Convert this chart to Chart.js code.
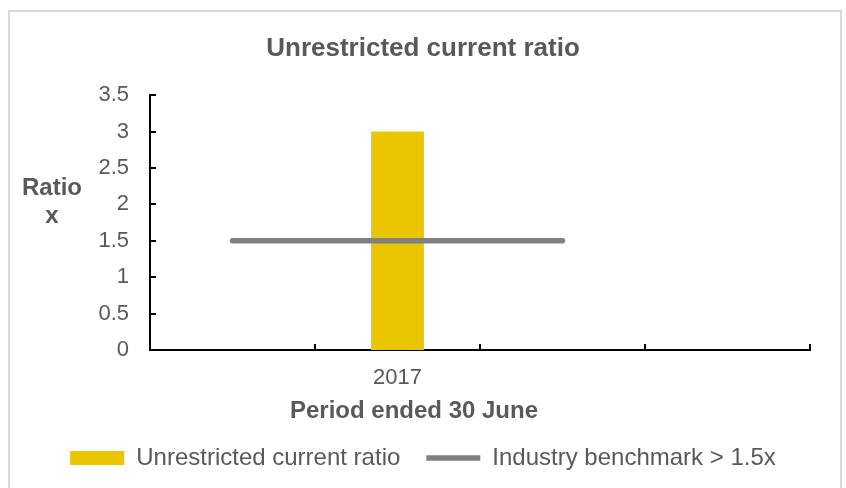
<!DOCTYPE html>
<html>
<head>
<meta charset="utf-8">
<script src="https://cdn.jsdelivr.net/npm/chart.js@4"></script>
<style>
  html, body { margin: 0; padding: 0; background: #fff; overflow: hidden; }
  #frame {
    position: absolute; left: 8px; top: 10px; width: 830px; height: 500px;
    border: 2px solid #d9d9d9; border-bottom: none;
  }
  #wrap { position: absolute; left: 0; top: 0; width: 846px; height: 488px; }
</style>
</head>
<body>
<div id="frame"></div>
<div id="wrap"><canvas id="chart"></canvas></div>
<script>
// Periods on the x axis (only 2017 has a result)
const periods = ['', '2017', '', ''];
const currentRatio = [null, 3.0, null, null];
const benchmark = [1.5, 1.5, 1.5, null];
const yMin = 0, yMax = 3.5, yStep = 0.5;

const textGrey = '#595959';
const gold = '#EBC500';
const lineGrey = '#808080';
const fontFamily = '"Liberation Sans", Arial, sans-serif';

// Draws inward tick marks on both axes plus the two axis titles
const axisExtras = {
    id: 'axisExtras',
    afterDraw(chart) {
        const { ctx, chartArea, scales } = chart;
        const y = scales.y;
        ctx.save();
        ctx.strokeStyle = '#000';
        ctx.lineWidth = 2;
        ctx.beginPath();
        y.ticks.forEach(t => {
            const py = Math.round(y.getPixelForValue(t.value));
            ctx.moveTo(chartArea.left, py);
            ctx.lineTo(chartArea.left + 6, py);
        });
        const n = periods.length;
        for (let i = 1; i <= n; i++) {
            const px = Math.round(chartArea.left + i * (chartArea.right - chartArea.left) / n);
            ctx.moveTo(px, chartArea.bottom);
            ctx.lineTo(px, chartArea.bottom - 6);
        }
        ctx.stroke();

        ctx.fillStyle = textGrey;
        ctx.font = 'bold 24px ' + fontFamily;
        ctx.textAlign = 'center';
        ctx.textBaseline = 'alphabetic';
        ctx.fillText('Ratio', 52, 195);
        ctx.fillText('x', 52, 223);
        ctx.textBaseline = 'middle';
        ctx.fillText('Period ended 30 June', 414, 411);
        ctx.restore();
    }
};

new Chart(document.getElementById('chart'), {
    data: {
        labels: periods,
        datasets: [
            {
                type: 'bar',
                label: 'Unrestricted current ratio',
                data: currentRatio,
                backgroundColor: gold,
                borderWidth: 0,
                barPercentage: 0.32,
                categoryPercentage: 1,
                pointStyle: 'rect',
                order: 2
            },
            {
                type: 'line',
                label: 'Industry benchmark > 1.5x',
                data: benchmark,
                borderColor: lineGrey,
                backgroundColor: lineGrey,
                borderWidth: 5.5,
                borderCapStyle: 'round',
                pointRadius: 0,
                pointStyle: 'line',
                order: 1
            }
        ]
    },
    options: {
        responsive: true,
        maintainAspectRatio: false,
        animation: false,
        layout: { padding: { left: 36, right: 36, top: 0, bottom: 8 } },
        plugins: {
            title: {
                display: true,
                text: 'Unrestricted current ratio',
                color: textGrey,
                font: { family: fontFamily, size: 26, weight: 'bold' },
                padding: { top: 33, bottom: 31 }
            },
            legend: {
                position: 'bottom',
                labels: {
                    usePointStyle: true,
                    pointStyleWidth: 54,
                    boxHeight: 14,
                    padding: 26,
                    color: textGrey,
                    font: { family: fontFamily, size: 24 },
                    sort: (a, b) => a.datasetIndex - b.datasetIndex
                }
            },
            tooltip: { enabled: false }
        },
        scales: {
            x: {
                offset: true,
                grid: { display: false, drawTicks: false },
                border: { display: true, color: '#000', width: 2 },
                ticks: {
                    color: textGrey,
                    padding: 15,
                    font: { family: fontFamily, size: 22 }
                },
                afterFit: (scale) => { scale.height = 70; }
            },
            y: {
                min: yMin,
                max: yMax,
                grid: { display: false, drawTicks: false },
                border: { display: true, color: '#000', width: 2 },
                ticks: {
                    stepSize: yStep,
                    color: textGrey,
                    padding: 21,
                    font: { family: fontFamily, size: 22 },
                    callback: (v) => String(v)
                },
                afterFit: (scale) => { scale.width = 114; }
            }
        }
    },
    plugins: [axisExtras]
});
</script>
</body>
</html>
